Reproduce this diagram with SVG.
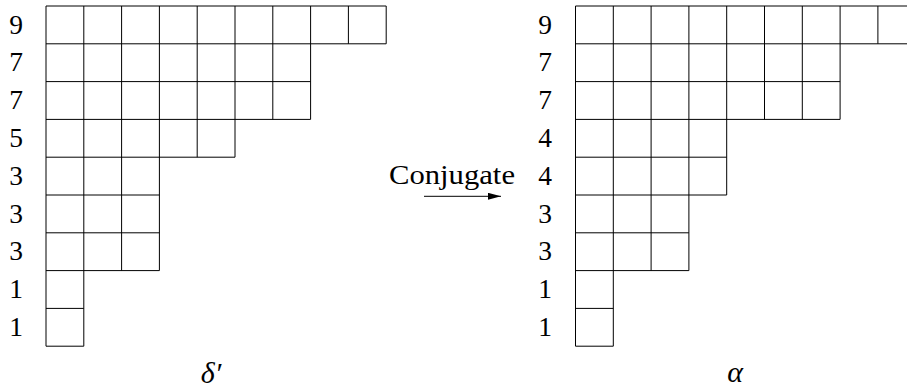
<svg xmlns="http://www.w3.org/2000/svg" width="907" height="389" viewBox="0 0 907 389">
<style>
.grid{fill:none;stroke:#000;stroke-width:1}
.lbl{font-family:"Liberation Serif","Times New Roman",serif;font-size:27.5px;fill:#000;text-anchor:middle}
.txt{font-family:"Liberation Serif","Times New Roman",serif;font-size:27.5px;fill:#000}
.it{font-family:"Liberation Serif","Times New Roman",serif;font-size:30px;font-style:italic;fill:#000;text-anchor:middle}
</style>
<defs>
<marker id="ah" markerWidth="13" markerHeight="7" refX="13" refY="3.5" orient="auto" markerUnits="userSpaceOnUse">
<path d="M0,0 L13,3.5 L0,7 Z" fill="#000"/>
</marker>
</defs>
<g id="delta-prime">
<path class="grid" d="M46,6H386.2 M46,43.8H386.2 M46,81.6H310.6 M46,119.4H310.6 M46,157.2H235 M46,195H159.4 M46,232.8H159.4 M46,270.6H159.4 M46,308.4H83.8 M46,346.2H83.8
M46,6V346.2 M83.8,6V346.2 M121.6,6V270.6 M159.4,6V270.6 M197.2,6V157.2 M235,6V157.2 M272.8,6V119.4 M310.6,6V119.4 M348.4,6V43.8 M386.2,6V43.8"/>
<text class="lbl" x="16" y="33.6">9</text>
<text class="lbl" x="16" y="71.4">7</text>
<text class="lbl" x="16" y="109.2">7</text>
<text class="lbl" x="16" y="147">5</text>
<text class="lbl" x="16" y="184.8">3</text>
<text class="lbl" x="16" y="222.6">3</text>
<text class="lbl" x="16" y="260.4">3</text>
<text class="lbl" x="16" y="298.2">1</text>
<text class="lbl" x="16" y="336">1</text>
<text class="it" x="211" y="383">δ′</text>
</g>
<g id="alpha">
<path class="grid" d="M575.5,6H915.7 M575.5,43.8H915.7 M575.5,81.6H840.1 M575.5,119.4H840.1 M575.5,157.2H726.7 M575.5,195H726.7 M575.5,232.8H688.9 M575.5,270.6H688.9 M575.5,308.4H613.3 M575.5,346.2H613.3
M575.5,6V346.2 M613.3,6V346.2 M651.1,6V270.6 M688.9,6V270.6 M726.7,6V195 M764.5,6V119.4 M802.3,6V119.4 M840.1,6V119.4 M877.9,6V43.8"/>
<text class="lbl" x="545" y="33.6">9</text>
<text class="lbl" x="545" y="71.4">7</text>
<text class="lbl" x="545" y="109.2">7</text>
<text class="lbl" x="545" y="147">4</text>
<text class="lbl" x="545" y="184.8">4</text>
<text class="lbl" x="545" y="222.6">3</text>
<text class="lbl" x="545" y="260.4">3</text>
<text class="lbl" x="545" y="298.2">1</text>
<text class="lbl" x="545" y="336">1</text>
<text class="it" x="735" y="382">α</text>
</g>
<g id="connectors">
<line x1="424" y1="196.3" x2="501" y2="196.3" stroke="#000" stroke-width="1" marker-end="url(#ah)"/>
<text class="txt" x="389" y="184" textLength="126" lengthAdjust="spacingAndGlyphs">Conjugate</text>
</g>
</svg>
